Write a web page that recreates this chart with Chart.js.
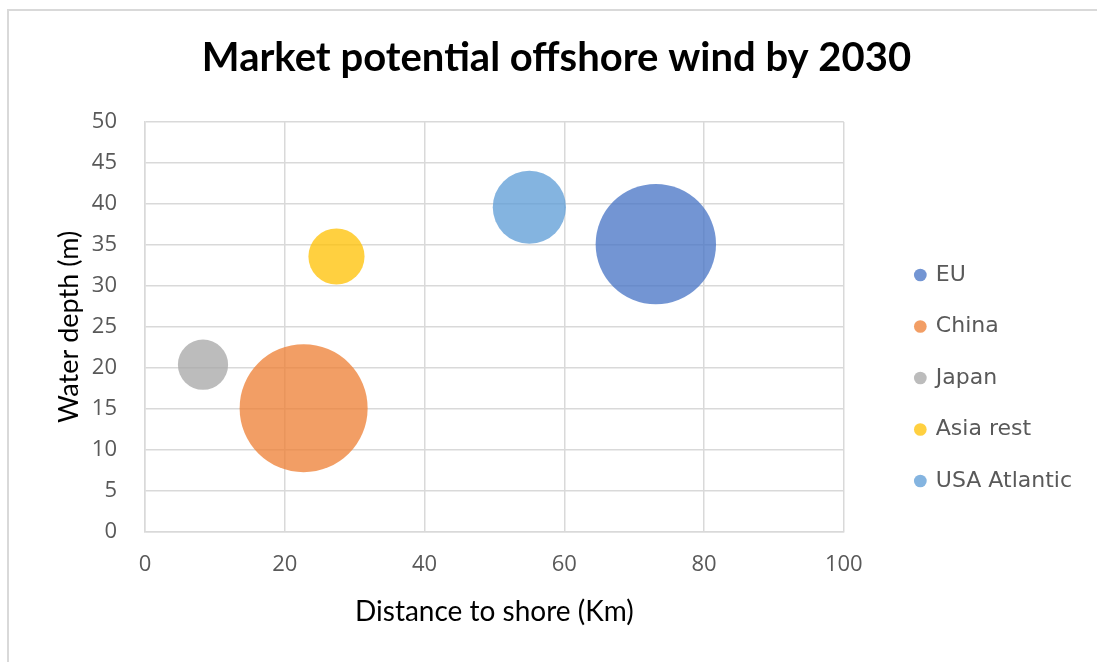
<!DOCTYPE html>
<html>
<head>
<meta charset="utf-8">
<script src="https://cdn.jsdelivr.net/npm/chart.js@4.4.0/dist/chart.umd.min.js"></script>
<style>
  html, body { margin: 0; padding: 0; background: #fff; }
  #windCanvas { display: block; }
</style>
</head>
<body>
<canvas id="windCanvas" width="1097" height="662"></canvas>
<script>
// offshore wind markets: distance to shore, water depth, bubble size = potential
const regions = ["EU", "China", "Japan", "Asia rest", "USA Atlantic"];
const distanceKm = [73.1, 22.7, 8.3, 27.4, 55.0];
const depthM = [35.1, 15.1, 20.4, 33.6, 39.6];
const potential = [46, 52, 8, 10, 17];
const xTicks = [0, 20, 40, 60, 80, 100];
const yTicks = [0, 5, 10, 15, 20, 25, 30, 35, 40, 45, 50];

const colors = [
  "rgba(68, 114, 196, 0.75)",
  "rgba(237, 125, 49, 0.75)",
  "rgba(165, 165, 165, 0.75)",
  "rgba(255, 192, 0, 0.75)",
  "rgba(91, 155, 213, 0.75)",
];

const MAX_RADIUS = 64;
const maxPotential = Math.max(...potential);

// thin frame along the top and left edge
const framePlugin = {
  id: "frame",
  beforeDraw(chart) {
    const c = chart.ctx;
    c.save();
    c.fillStyle = "#fff";
    c.fillRect(0, 0, chart.width, chart.height);
    c.strokeStyle = "#d9d9d9";
    c.lineWidth = 2;
    c.beginPath();
    c.moveTo(8, chart.height);
    c.lineTo(8, 10);
    c.lineTo(chart.width, 10);
    c.stroke();
    c.restore();
  },
};

function windChart() {
  const ctx = document.getElementById("windCanvas").getContext("2d");

  const datasets = regions.map(function (name, i) {
    return {
      label: name,
      data: [
        {
          x: distanceKm[i],
          y: depthM[i],
          r: MAX_RADIUS * Math.sqrt(potential[i] / maxPotential),
        },
      ],
      backgroundColor: colors[i],
      borderWidth: 0,
      hoverBorderWidth: 0,
    };
  });

  new Chart(ctx, {
    type: "bubble",
    data: { datasets: datasets },
    options: {
      responsive: false,
      animation: false,
      events: [],
      layout: { padding: { left: 31, top: 0, right: 15, bottom: 0 } },
      plugins: {
        tooltip: { enabled: false },
        title: {
          display: true,
          text: "Market potential offshore wind by 2030",
          color: "#000",
          font: { family: "Lato", weight: "bold", size: 40, lineHeight: 1.2 },
          padding: { top: 34.3, bottom: 39.7 },
        },
        legend: {
          position: "right",
          fullSize: false,
          align: "start",
          title: {
            display: true,
            text: "",
            font: { size: 12, lineHeight: 1.2 },
            padding: { top: 98.1, bottom: 0 },
          },
          labels: {
            usePointStyle: true,
            pointStyle: "circle",
            boxWidth: 9,
            boxHeight: 9,
            padding: 29.5,
            color: "#595959",
            font: { family: "DejaVu Sans", size: 22 },
          },
        },
      },
      scales: {
        x: {
          type: "linear",
          min: xTicks[0],
          max: xTicks[xTicks.length - 1],
          afterBuildTicks: function (scale) {
            scale.ticks = xTicks.map((v) => ({ value: v }));
          },
          afterFit: function (scale) {
            scale.height = 130;
          },
          grid: { color: "#d9d9d9", lineWidth: 1.5, drawTicks: false },
          border: { color: "#d9d9d9", width: 1.5 },
          ticks: {
            padding: 19.5,
            color: "#595959",
            font: { family: "Open Sans", size: 22 },
          },
          title: {
            display: true,
            text: "Distance to shore (Km)",
            color: "#000",
            font: { family: "Lato", size: 28, lineHeight: 1.2 },
            padding: { top: 0, bottom: 33.2 },
          },
        },
        y: {
          type: "linear",
          min: yTicks[0],
          max: yTicks[yTicks.length - 1],
          afterBuildTicks: function (scale) {
            scale.ticks = yTicks.map((v) => ({ value: v }));
          },
          afterFit: function (scale) {
            scale.width = 114;
          },
          grid: { color: "#d9d9d9", lineWidth: 1.5, drawTicks: false },
          border: { color: "#d9d9d9", width: 1.5 },
          ticks: {
            padding: 28,
            color: "#595959",
            font: { family: "Open Sans", size: 22 },
          },
          title: {
            display: true,
            text: "Water depth (m)",
            color: "#000",
            font: { family: "Lato", size: 27, lineHeight: 1.2 },
            padding: { top: 21.8, bottom: 0 },
          },
        },
        // hidden strip that keeps the legend away from the plot
        gap: {
          type: "linear",
          position: "right",
          display: false,
          afterFit: function (scale) {
            scale.width = 42.5;
          },
        },
      },
    },
    plugins: [framePlugin],
  });
}

windChart();
</script>
</body>
</html>
